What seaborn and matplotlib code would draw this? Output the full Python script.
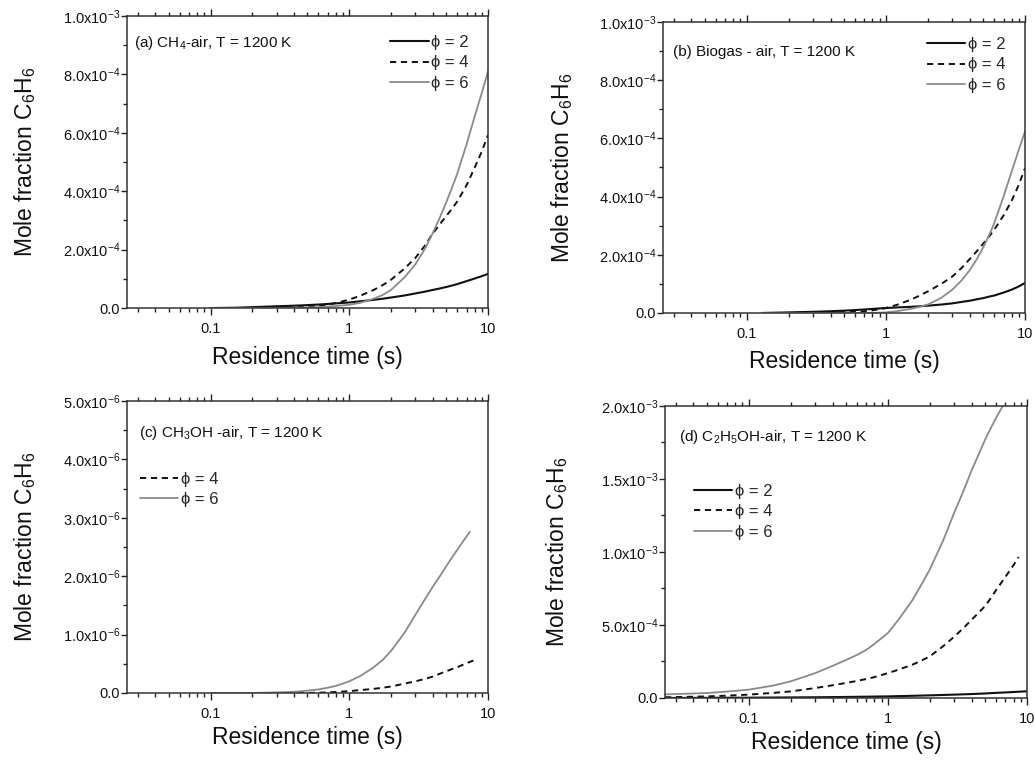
import numpy as np
import matplotlib
matplotlib.use("Agg")
import matplotlib.pyplot as plt
from matplotlib.ticker import FuncFormatter, MultipleLocator, LogLocator, NullFormatter, FixedLocator, FixedFormatter
import seaborn as sns

# ---------------- data: benzene mole fraction vs residence time ----------------
# (a) CH4-air
t_a = [0.1, 0.15, 0.2, 0.3, 0.4, 0.5, 0.6, 0.7, 0.8, 1.0, 1.2, 1.5, 1.75, 2.0, 2.5,
       3.0, 3.5, 4.0, 4.5, 5.0, 5.5, 6.0, 7.0, 8.0, 9.0, 10.0]
a_phi2 = np.array([0.0, 0.01, 0.03, 0.06, 0.08, 0.10, 0.12, 0.14, 0.16, 0.19, 0.23, 0.28, 0.32,
                   0.36, 0.43, 0.50, 0.56, 0.62, 0.67, 0.72, 0.77, 0.82, 0.92, 1.01, 1.09, 1.17]) * 1e-4
a_phi4 = np.array([0.0, 0.0, 0.0, 0.01, 0.03, 0.05, 0.08, 0.12, 0.17, 0.29, 0.42, 0.62, 0.79,
                   0.97, 1.35, 1.72, 2.13, 2.55, 2.87, 3.15, 3.40, 3.65, 4.20, 4.80, 5.35, 5.93]) * 1e-4
a_phi6 = np.array([0.0, 0.0, 0.0, 0.0, 0.01, 0.02, 0.03, 0.05, 0.07, 0.11, 0.18, 0.32, 0.45,
                   0.62, 1.05, 1.50, 2.02, 2.57, 3.10, 3.62, 4.12, 4.60, 5.60, 6.55, 7.35, 8.10]) * 1e-4

# (b) Biogas-air
t_b = [0.13, 0.2, 0.3, 0.4, 0.5, 0.6, 0.7, 0.8, 1.0, 1.2, 1.5, 1.75, 2.0, 2.5,
       3.0, 3.5, 4.0, 4.5, 5.0, 5.5, 6.0, 7.0, 8.0, 9.0, 10.0]
b_phi2 = np.array([0.0, 0.02, 0.04, 0.06, 0.08, 0.10, 0.12, 0.14, 0.17, 0.19, 0.21, 0.23, 0.25,
                   0.29, 0.33, 0.38, 0.42, 0.47, 0.51, 0.56, 0.60, 0.70, 0.80, 0.91, 1.03]) * 1e-4
b_phi4 = np.array([0.0, 0.0, 0.01, 0.02, 0.03, 0.04, 0.06, 0.09, 0.17, 0.28, 0.45, 0.60, 0.74,
                   1.00, 1.25, 1.55, 1.85, 2.12, 2.38, 2.62, 2.86, 3.35, 3.85, 4.40, 4.98]) * 1e-4
b_phi6 = np.array([0.0, 0.0, 0.0, 0.0, 0.0, 0.0, 0.0, 0.0, 0.02, 0.06, 0.14, 0.21, 0.29,
                   0.52, 0.80, 1.12, 1.47, 1.85, 2.25, 2.66, 3.08, 4.00, 4.85, 5.60, 6.24]) * 1e-4

# (c) CH3OH-air
t_c4 = [0.1, 0.3, 0.5, 0.7, 1.0, 1.2, 1.5, 2.0, 2.5, 3.0, 3.5, 4.0, 4.5, 5.0, 5.5, 6.0, 7.0, 8.36]
c_phi4 = np.array([0.0, 0.0, 0.0, 0.01, 0.03, 0.05, 0.07, 0.11, 0.16, 0.20, 0.24, 0.28,
                   0.33, 0.37, 0.41, 0.44, 0.51, 0.58]) * 1e-6
t_c6 = [0.1, 0.2, 0.3, 0.4, 0.5, 0.6, 0.7, 0.8, 1.0, 1.2, 1.5, 1.75, 2.0, 2.5,
        3.0, 3.5, 4.0, 4.5, 5.0, 5.5, 6.0, 6.5, 7.0, 7.4]
c_phi6 = np.array([0.0, 0.0, 0.01, 0.02, 0.04, 0.06, 0.09, 0.12, 0.20, 0.29, 0.44, 0.57, 0.72,
                   1.03, 1.34, 1.60, 1.82, 2.00, 2.17, 2.32, 2.45, 2.57, 2.68, 2.76]) * 1e-6

# (d) C2H5OH-air
t_d2 = [0.025, 0.05, 0.1, 0.2, 0.3, 0.5, 0.7, 1.0, 1.5, 2.0, 3.0, 4.0, 5.0, 6.0, 7.0, 8.0, 10.0]
d_phi2 = np.array([0.0, 0.01, 0.02, 0.04, 0.05, 0.07, 0.09, 0.11, 0.15, 0.18, 0.23, 0.27,
                   0.31, 0.35, 0.38, 0.41, 0.46]) * 1e-4
t_d4 = [0.025, 0.03, 0.05, 0.07, 0.1, 0.15, 0.2, 0.3, 0.4, 0.5, 0.6, 0.7, 0.8, 1.0, 1.2, 1.5,
        1.75, 2.0, 2.5, 3.0, 3.5, 4.0, 4.5, 5.0, 5.5, 6.0, 7.0, 8.0, 8.7]
d_phi4 = np.array([0.05, 0.06, 0.11, 0.16, 0.23, 0.35, 0.45, 0.68, 0.87, 1.03, 1.17, 1.30, 1.43,
                   1.70, 1.95, 2.28, 2.57, 2.85, 3.55, 4.20, 4.80, 5.36, 5.85, 6.30, 6.85, 7.40,
                   8.30, 9.10, 9.65]) * 1e-4
t_d6 = [0.025, 0.03, 0.05, 0.07, 0.1, 0.15, 0.2, 0.3, 0.4, 0.5, 0.6, 0.7, 0.8, 1.0, 1.2, 1.5,
        1.75, 2.0, 2.5, 3.0, 3.5, 4.0, 4.5, 5.0, 5.5, 6.0, 6.7, 7.5, 8.7]
d_phi6 = np.array([0.25, 0.27, 0.34, 0.44, 0.57, 0.85, 1.14, 1.70, 2.20, 2.60, 2.95, 3.30, 3.70,
                   4.45, 5.40, 6.70, 7.80, 8.80, 10.80, 12.70, 14.20, 15.60, 16.70, 17.70, 18.50,
                   19.20, 20.00, 21.00, 22.50]) * 1e-4

phi_labels = {2: "ϕ = 2", 4: "ϕ = 4", 6: "ϕ = 6"}
x_ticks = [0.1, 1, 10]
x_ticklabels = ["0.1", "1", "10"]

# ---------------- style ----------------
sns.set_theme(style="ticks")
FAM = ["Liberation Sans", "DejaVu Sans"]
plt.rcParams["font.family"] = FAM
plt.rcParams["mathtext.fontset"] = "custom"
plt.rcParams["mathtext.rm"] = "Liberation Sans"
plt.rcParams["mathtext.it"] = "Liberation Sans:italic"
plt.rcParams["mathtext.bf"] = "Liberation Sans:bold"
plt.rcParams["axes.unicode_minus"] = True

BLACK = "#111111"
GREY = "#8a8a8a"
DASH = (0, (3.2, 2.4))

styles = {
    2: dict(color=BLACK, lw=1.5, ls="-"),
    4: dict(color=BLACK, lw=1.4, ls=DASH),
    6: dict(color=GREY, lw=1.3, ls="-"),
}


def sci_fmt(v, pos):
    if abs(v) < 1e-15:
        return "0.0"
    e = int(np.floor(np.log10(abs(v)) + 1e-9))
    m = v / 10 ** e
    return f"{m:.1f}x10$^{{{e}}}$"


fig = plt.figure(figsize=(10.35, 7.6), dpi=100)

panels = [
    dict(rect=[0.1227, 0.5947, 0.3488, 0.3842], ymax=1e-3, ystep=2e-4,
         series=[(2, t_a, a_phi2), (4, t_a, a_phi4), (6, t_a, a_phi6)],
         title="(a) CH$_4$-air, T = 1200 K", tpos=(0.019, 0.908),
         leg=(0.729, 0.935), xl=-0.168, yl=-0.283),
    dict(rect=[0.6406, 0.5882, 0.3498, 0.3829], ymax=1e-3, ystep=2e-4,
         series=[(2, t_b, b_phi2), (4, t_b, b_phi4), (6, t_b, b_phi6)],
         title="(b) Biogas - air, T = 1200 K", tpos=(0.028, 0.897),
         leg=(0.729, 0.948), xl=-0.168, yl=-0.279),
    dict(rect=[0.1227, 0.0882, 0.3488, 0.3842], ymax=5e-6, ystep=1e-6,
         series=[(4, t_c4, c_phi4), (6, t_c6, c_phi6)],
         title="(c) CH$_3$OH -air, T = 1200 K", tpos=(0.033, 0.890),
         leg=(0.036, 0.757), xl=-0.154, yl=-0.283),
    dict(rect=[0.6425, 0.0816, 0.3498, 0.3842], ymax=2e-3, ystep=5e-4,
         series=[(2, t_d2, d_phi2), (4, t_d4, d_phi4), (6, t_d6, d_phi6)],
         title="(d) C$_2$H$_5$OH-air, T = 1200 K", tpos=(0.039, 0.894),
         leg=(0.080, 0.733), xl=-0.154, yl=-0.298),
]

for p in panels:
    ax = fig.add_axes(p["rect"])
    for phi, t, y in p["series"]:
        st = styles[phi]
        sns.lineplot(x=t, y=y, ax=ax, color=st["color"], linewidth=st["lw"],
                     linestyle=st["ls"], label=phi_labels[phi],
                     sort=False, estimator=None, legend=False)

    ax.set_xscale("log")
    ax.set_xlim(0.025, 10)
    ax.set_ylim(0, p["ymax"])
    ax.xaxis.set_major_locator(FixedLocator(x_ticks))
    ax.xaxis.set_major_formatter(FixedFormatter(x_ticklabels))
    ax.xaxis.set_minor_locator(LogLocator(base=10, subs=np.arange(2, 10)))
    ax.xaxis.set_minor_formatter(NullFormatter())
    ax.yaxis.set_major_locator(MultipleLocator(p["ystep"]))
    ax.yaxis.set_minor_locator(MultipleLocator(p["ystep"] / 2))
    ax.yaxis.set_major_formatter(FuncFormatter(sci_fmt))

    ax.tick_params(axis="x", which="both", direction="out", top=True, bottom=True,
                   colors="#222222", labelsize=10.5, width=1.0, pad=5)
    ax.tick_params(axis="x", which="major", length=5)
    ax.tick_params(axis="x", which="minor", length=3)
    ax.tick_params(axis="y", which="both", direction="out", left=True, right=False,
                   colors="#222222", labelsize=10.5, width=1.0, pad=1)
    ax.tick_params(axis="y", which="major", length=4)
    ax.tick_params(axis="y", which="minor", length=3)
    for lbl in ax.get_xticklabels() + ax.get_yticklabels():
        lbl.set_color("#111111")

    for s in ax.spines.values():
        s.set_visible(True)
        s.set_linewidth(1.1)
        s.set_color("#333333")

    ax.set_xlabel("Residence time (s)", fontsize=16.5, color="#111111")
    ax.set_ylabel("Mole fraction C$_6$H$_6$", fontsize=16.5, color="#111111")
    ax.xaxis.set_label_coords(0.5, p["xl"])
    ax.xaxis.label.set_verticalalignment("center")
    ax.yaxis.set_label_coords(p["yl"], 0.5)
    ax.yaxis.label.set_verticalalignment("center")

    ax.text(p["tpos"][0], p["tpos"][1], p["title"], transform=ax.transAxes,
            fontsize=11, ha="left", va="center", color="#111111")

    ax.legend(loc="upper left", bbox_to_anchor=p["leg"], frameon=False,
              borderpad=0, borderaxespad=0, handlelength=2.3, handletextpad=0.15,
              labelspacing=0.32, prop={"family": FAM, "size": 12})

fig.savefig("out.png", dpi=100, facecolor="white")
